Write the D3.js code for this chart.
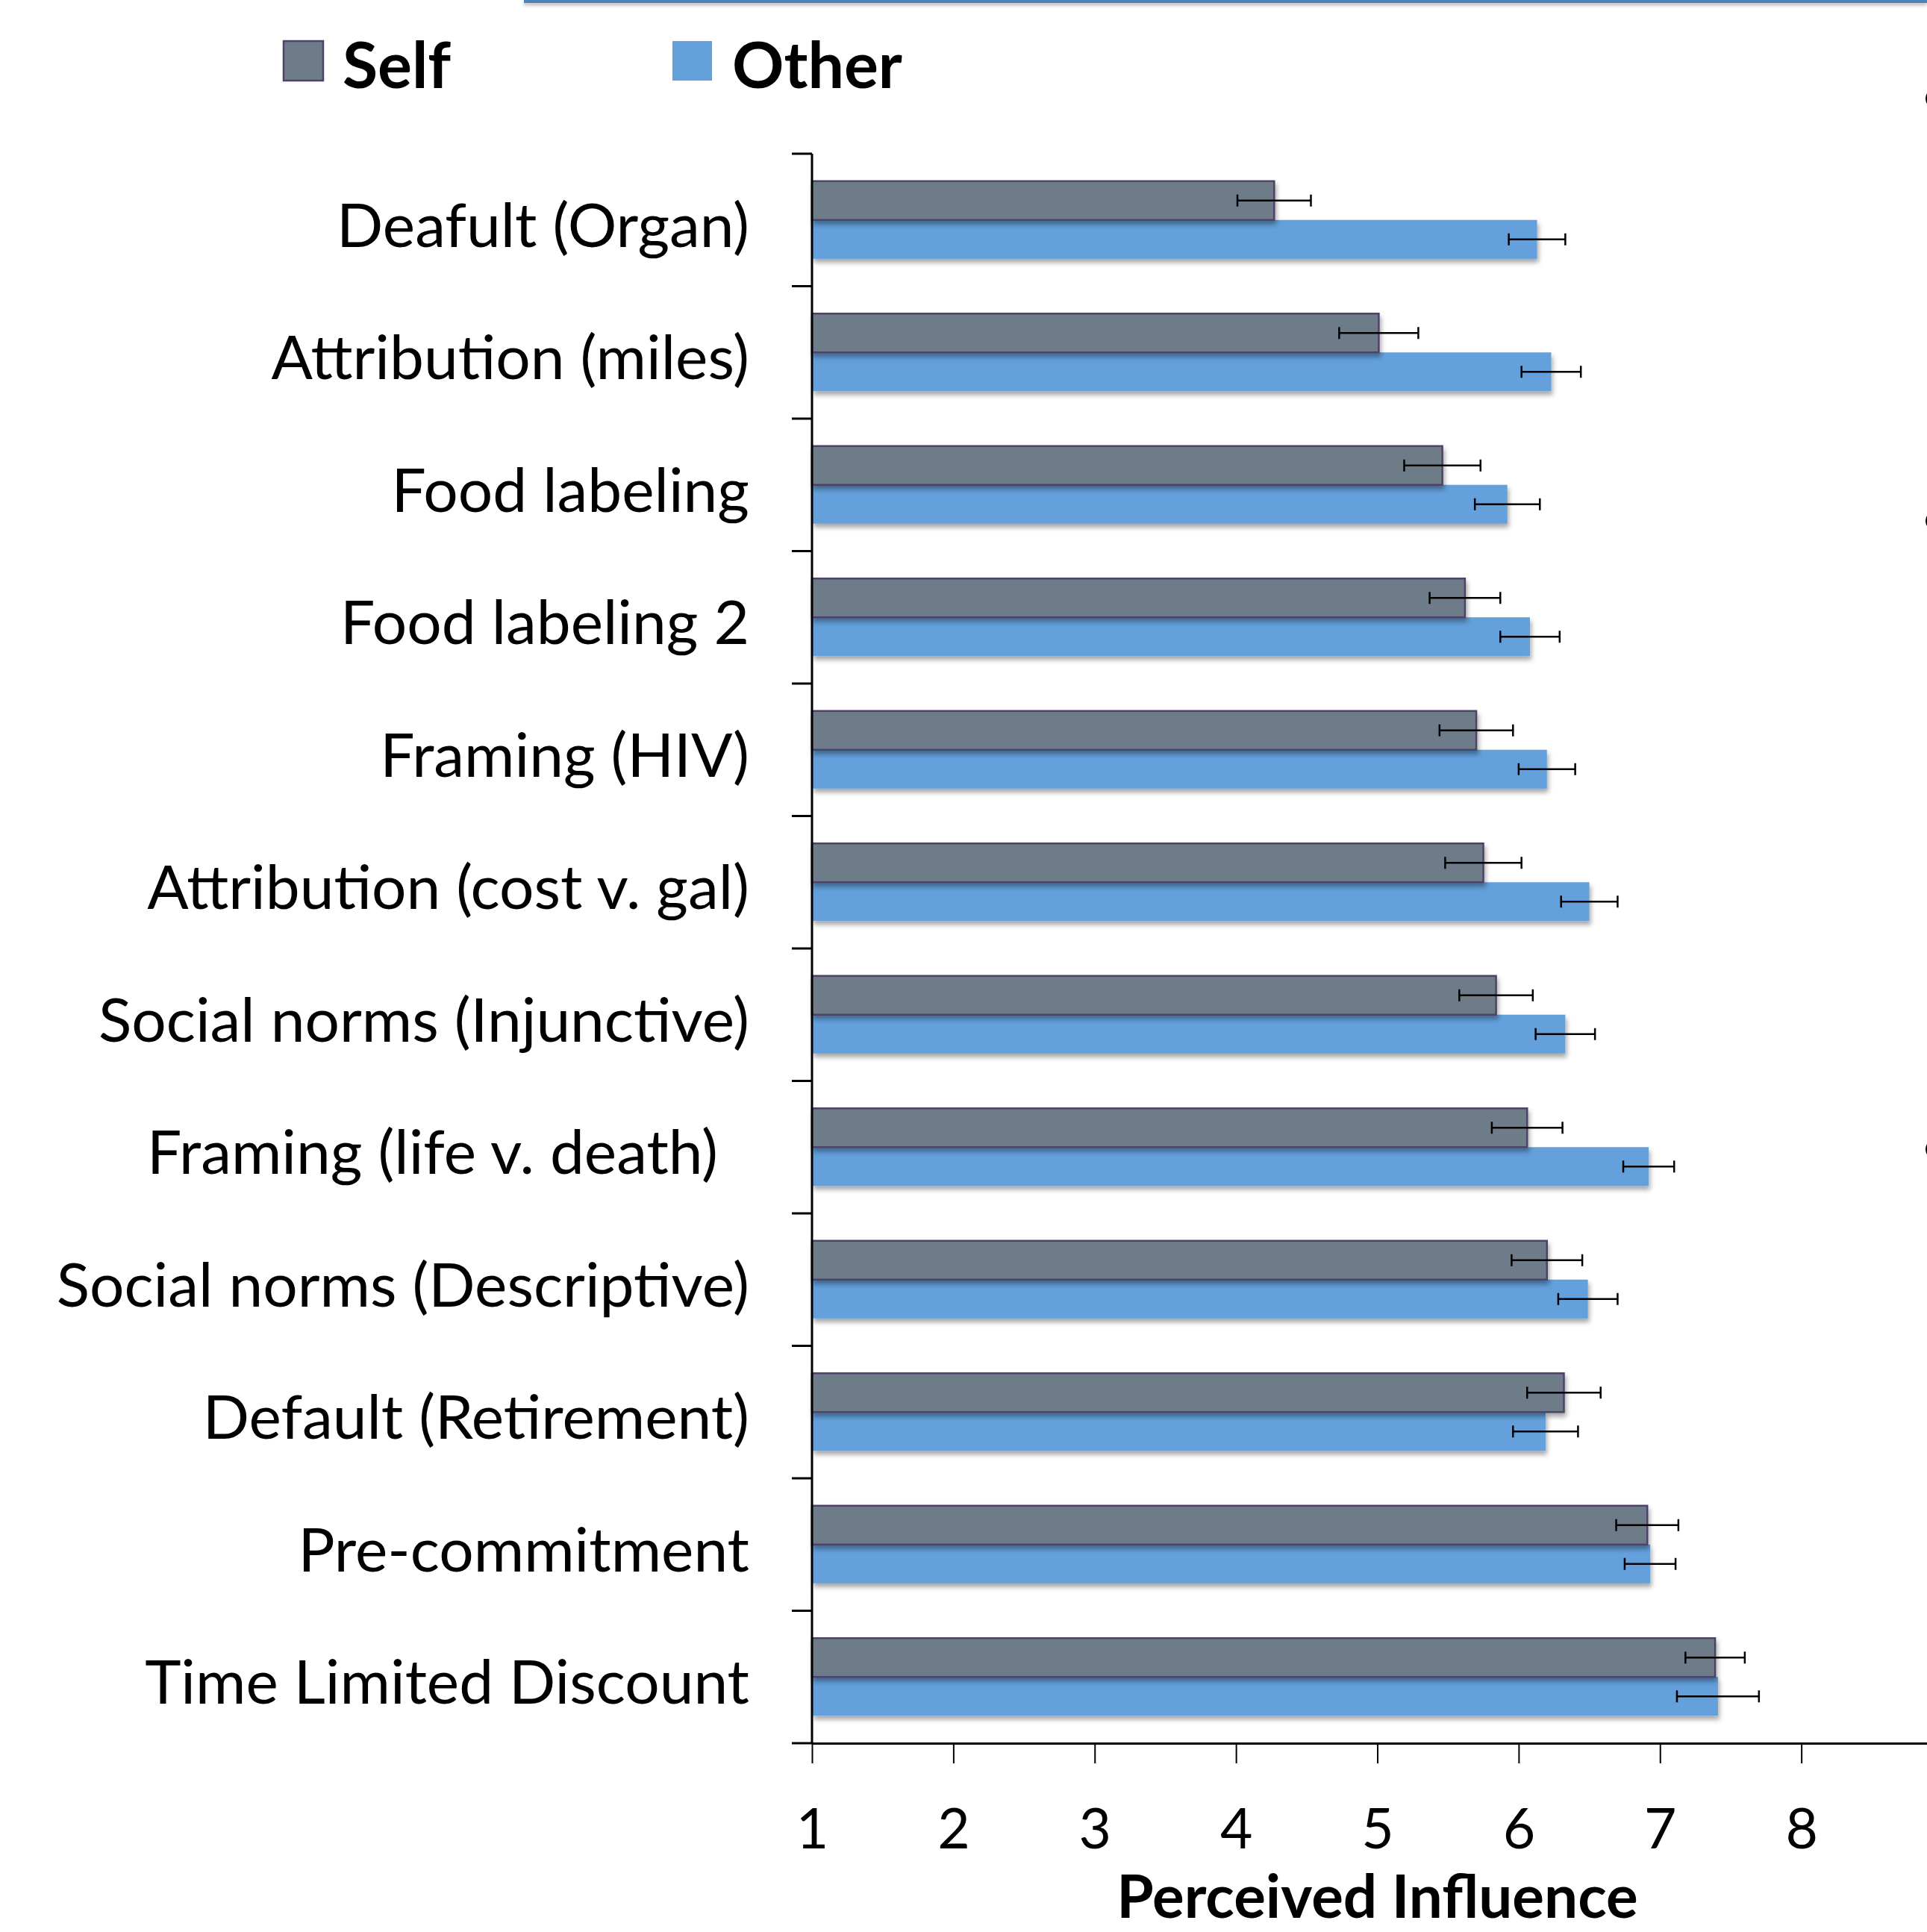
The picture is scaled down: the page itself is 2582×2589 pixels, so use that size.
<!DOCTYPE html>
<html>
<head>
<meta charset="utf-8">
<script src="https://cdn.jsdelivr.net/npm/d3@7"></script>
<style>
  html, body { margin: 0; padding: 0; background: #fff; }
  svg { display: block; }
  text.cat { white-space: pre; }
</style>
</head>
<body>
<script>
// ---- data ----
const categories = [
  "Deafult (Organ)",
  "Attribution (miles)",
  "Food labeling",
  "Food labeling 2",
  "Framing (HIV)",
  "Attribution (cost v. gal)",
  "Social norms (Injunctive)",
  "Framing (life v. death)  ",
  "Social norms (Descriptive)",
  "Default (Retirement)",
  "Pre-commitment",
  "Time Limited Discount"
];
const seriesNames = ["Self", "Other"];
const selfValues  = [4.27, 5.01, 5.46, 5.62, 5.70, 5.75, 5.84, 6.06, 6.20, 6.32, 6.91, 7.39];
const otherValues = [6.13, 6.23, 5.92, 6.08, 6.20, 6.50, 6.33, 6.92, 6.49, 6.19, 6.93, 7.41];
const selfErrors  = [0.26, 0.28, 0.27, 0.25, 0.26, 0.27, 0.26, 0.25, 0.25, 0.26, 0.22, 0.21];
const otherErrors = [0.20, 0.21, 0.23, 0.21, 0.20, 0.20, 0.21, 0.18, 0.21, 0.23, 0.18, 0.29];
const xTickValues = [1, 2, 3, 4, 5, 6, 7, 8];
const xAxisTitle = "Perceived Influence";

// ---- layout ----
const W = 2582, H = 2589;
const plot = { left: 1088, right: 2603, top: 206, bottom: 2336 };
const colors = { Self: "#6e7c89", Other: "#64a0dc" };
const selfStroke = "#4d4368";
const FONT = "Lato, 'Open Sans', sans-serif";

const svg = d3.select("body").append("svg").attr("width", W).attr("height", H);

const defs = svg.append("defs");
const f = defs.append("filter").attr("id", "shadow")
  .attr("x", "-5%").attr("y", "-30%").attr("width", "110%").attr("height", "170%");
f.append("feDropShadow").attr("dx", 2).attr("dy", 5).attr("stdDeviation", 3)
  .attr("flood-color", "#000").attr("flood-opacity", 0.35);
const f2 = defs.append("filter").attr("id", "lineShadow")
  .attr("filterUnits", "userSpaceOnUse").attr("x", 0).attr("y", -5).attr("width", W).attr("height", 30);
f2.append("feDropShadow").attr("dx", 0).attr("dy", 3).attr("stdDeviation", 2)
  .attr("flood-color", "#000").attr("flood-opacity", 0.3);

// decorative slide elements (top rule and edge bullets of the source slide)
svg.append("rect").attr("x", 702).attr("y", 0).attr("width", W - 702).attr("height", 4)
  .attr("fill", "#4f81bd").attr("filter", "url(#lineShadow)");
svg.selectAll("circle.bullet").data([132, 698, 1540]).join("circle")
  .attr("class", "bullet").attr("cx", 2593).attr("cy", d => d).attr("r", 13).attr("fill", "#000");

const x = d3.scaleLinear().domain([1, 9]).range([plot.left, plot.right]);
const y = d3.scaleBand().domain(categories).range([plot.top, plot.bottom]).padding(0);
const ySub = d3.scaleBand().domain(seriesNames).range([0, y.bandwidth()]).paddingInner(0).paddingOuter(0.707);

const rows = categories.map((c, i) => ({
  cat: c,
  vals: [
    { s: "Self", v: selfValues[i], e: selfErrors[i] },
    { s: "Other", v: otherValues[i], e: otherErrors[i] }
  ]
}));

const g = svg.append("g");
const groups = g.selectAll("g.cat").data(rows).join("g")
  .attr("class", "cat").attr("transform", d => `translate(0,${y(d.cat)})`);

// bars: Other drawn first so Self border sits on top
groups.selectAll("rect.bar").data(d => [d.vals[1], d.vals[0]]).join("rect")
  .attr("class", "bar")
  .attr("x", x(1))
  .attr("y", d => ySub(d.s))
  .attr("width", d => x(d.v) - x(1))
  .attr("height", ySub.bandwidth())
  .attr("fill", d => colors[d.s])
  .attr("stroke", d => d.s === "Self" ? selfStroke : "none")
  .attr("stroke-width", 2.5)
  .attr("filter", "url(#shadow)");

// error bars
const capH = 16;
const eb = groups.selectAll("g.err").data(d => d.vals).join("g").attr("class", "err")
  .attr("transform", d => `translate(0,${ySub(d.s) + ySub.bandwidth() / 2})`);
eb.append("line").attr("x1", d => x(d.v - d.e)).attr("x2", d => x(d.v + d.e))
  .attr("y1", 0).attr("y2", 0).attr("stroke", "#000").attr("stroke-width", 2.5);
eb.append("line").attr("x1", d => x(d.v - d.e)).attr("x2", d => x(d.v - d.e))
  .attr("y1", -capH / 2).attr("y2", capH / 2).attr("stroke", "#000").attr("stroke-width", 2.5);
eb.append("line").attr("x1", d => x(d.v + d.e)).attr("x2", d => x(d.v + d.e))
  .attr("y1", -capH / 2).attr("y2", capH / 2).attr("stroke", "#000").attr("stroke-width", 2.5);

// y axis (category boundary ticks, labels at centers)
const yAxisG = svg.append("g").attr("transform", `translate(${plot.left},0)`);
yAxisG.append("line").attr("x1", 0).attr("x2", 0).attr("y1", plot.top).attr("y2", plot.bottom)
  .attr("stroke", "#000").attr("stroke-width", 3);
const boundaries = categories.map(c => y(c)).concat([plot.bottom]);
yAxisG.selectAll("line.tick").data(boundaries).join("line").attr("class", "tick")
  .attr("x1", -27).attr("x2", 0).attr("y1", d => d).attr("y2", d => d)
  .attr("stroke", "#000").attr("stroke-width", 3);
const labelX = 1004 - plot.left;
yAxisG.selectAll("text.cat").data(categories).join("text").attr("class", "cat")
  .attr("x", labelX)
  .attr("y", d => y(d) + y.bandwidth() / 2 + 36)
  .attr("text-anchor", "end")
  .attr("font-family", FONT).attr("font-size", 82).attr("fill", "#000")
  .text(d => d);

// x axis
const xAxis = d3.axisBottom(x).tickValues(xTickValues).tickSize(27).tickSizeOuter(0).tickFormat(d3.format("d"));
const xAxisG = svg.append("g").attr("transform", `translate(0,${plot.bottom})`).call(xAxis);
xAxisG.select(".domain").attr("stroke", "#000").attr("stroke-width", 3);
xAxisG.selectAll(".tick line").attr("stroke", "#000").attr("stroke-width", 2);
xAxisG.selectAll(".tick text")
  .attr("y", 141).attr("dy", 0)
  .attr("font-family", FONT).attr("font-size", 75).attr("fill", "#000");

svg.append("text")
  .attr("x", (plot.left + plot.right) / 2).attr("y", 2570)
  .attr("text-anchor", "middle")
  .attr("font-family", FONT).attr("font-weight", "bold").attr("font-size", 80)
  .text(xAxisTitle);

// legend
const legend = svg.append("g");
const legendItems = [{ s: "Self", x: 380, tx: 459 }, { s: "Other", x: 901, tx: 981 }];
legendItems.forEach(it => {
  legend.append("rect").attr("x", it.x).attr("y", 55).attr("width", 53).attr("height", 53)
    .attr("fill", colors[it.s])
    .attr("stroke", it.s === "Self" ? selfStroke : "none").attr("stroke-width", 2.5);
  legend.append("text").attr("x", it.tx).attr("y", 118)
    .attr("font-family", FONT).attr("font-weight", "bold").attr("font-size", 86)
    .text(it.s);
});
</script>
</body>
</html>
